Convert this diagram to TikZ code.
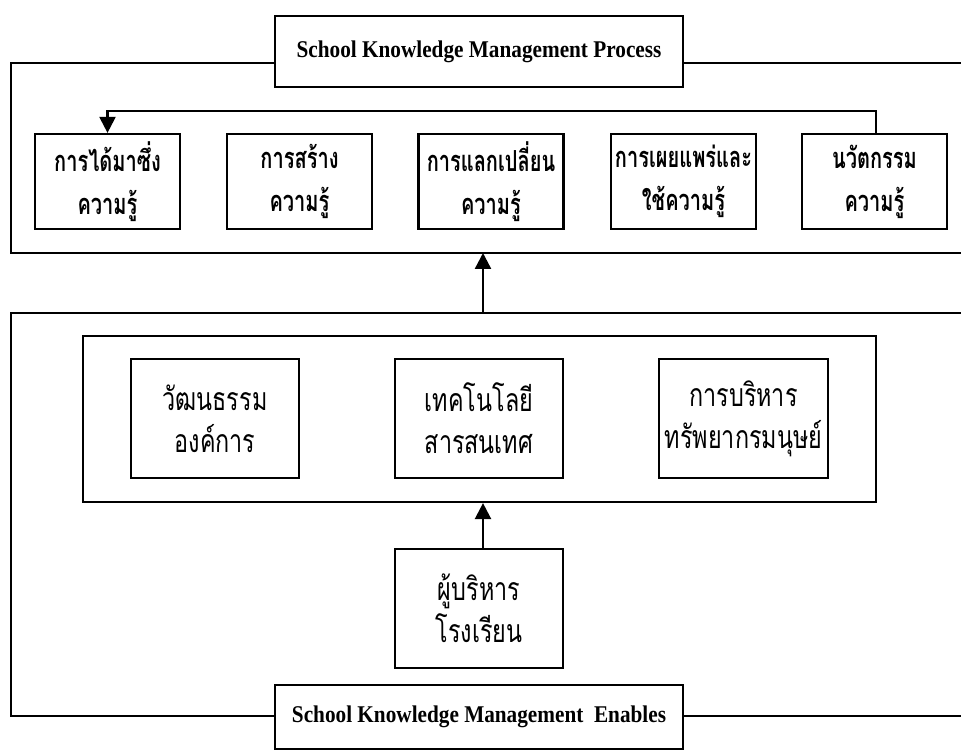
\documentclass[tikz,border=0pt]{standalone}
\usepackage{fontspec}
\setmainfont{Liberation Serif}
\newfontfamily\thaifont[Script=Thai]{Loma}
\usetikzlibrary{arrows.meta,calc}

% horizontally condensed text line
\newcommand{\narrow}[2]{\scalebox{#1}[1]{#2}}
\newcommand{\pline}[1]{\narrow{0.69}{#1}}
\newcommand{\eline}[1]{\narrow{0.73}{#1}}

\tikzset{
  frame/.style={line width=2.7pt, line cap=rect},
  titlebox/.style={draw, line width=2.2pt, fill=white, inner sep=0pt,
    minimum width=408pt, font=\fontsize{24}{28}\selectfont\bfseries},
  procbox/.style={draw, line width=2.2pt, inner sep=0pt, align=center,
    minimum width=145pt, minimum height=95pt,
    font=\thaifont\bfseries\fontsize{29}{43}\selectfont},
  enabbox/.style={draw, line width=2.2pt, inner sep=0pt, align=center,
    minimum width=168pt, minimum height=119pt,
    font=\thaifont\fontsize{32}{42}\selectfont},
  groupbox/.style={draw, line width=2.2pt, inner sep=0pt,
    minimum width=793pt, minimum height=166pt},
  flow/.style={line width=2.4pt, -{Triangle[length=16pt,width=16pt]}},
}

\begin{document}
\begin{tikzpicture}[x=1pt, y=-1pt]
\useasboundingbox (0,0) rectangle (961,751);

% process group: title box and its open frame
\coordinate (ptl) at (11,63);
\coordinate (pbl) at (11,253);
\coordinate (pbr) at (961,253);
\coordinate (ptr) at (961,63);
\node[titlebox, minimum height=71pt] (ptitle) at (479,51.5)
  {\narrow{0.885}{School Knowledge Management Process}};
\draw[frame] (ptitle.west |- ptl) -- (ptl) -- (pbl) -- (pbr);
\draw[frame] (ptitle.east |- ptr) -- (ptr);

% the five steps of the process
\node[procbox] (p1) at (107.5,181.5) {\pline{การได้มาซึ่ง}\\\pline{ความรู้}};
\node[procbox] (p2) at (299.5,181.5) {\pline{การสร้าง}\\\pline{ความรู้}};
\node[procbox] (p3) at (491,181.5) {\pline{การแลกเปลี่ยน}\\\pline{ความรู้}};
\node[procbox] (p4) at (683.5,181.5) {\pline{การเผยแพร่และ}\\\pline{ใช้ความรู้}};
\node[procbox] (p5) at (874.5,181.5) {\pline{นวัตกรรม}\\\pline{ความรู้}};

% feedback loop from the last step back to the first
\coordinate (loop) at (0,111);
\draw[flow, line width=2.2pt] ([xshift=1.5pt]p5.north) -- ([xshift=1.5pt]p5.north |- loop)
  -- (p1.north |- loop) -- (p1.north);

% enablers group: open frame and its title box
\coordinate (etl) at (11,313);
\coordinate (etr) at (961,313);
\coordinate (ebl) at (11,716);
\coordinate (ebr) at (961,716);
\draw[frame] (etr) -- (etl) -- (ebl) -- (275,716);
\node[titlebox, minimum height=64pt] (etitle) at (479,717)
  {\narrow{0.885}{School Knowledge Management\ \ Enables}};
\draw[frame] (etitle.west |- ebl) -- (ebl);
\draw[frame] (etitle.east |- ebr) -- (ebr);

% link from enablers up to the process
\draw[flow] (483,313) coordinate (eup) -- (eup |- pbl);

% enabling factors
\node[groupbox] (grp) at (479.5,419) {};
\node[enabbox] (e1) at (215,418.5) {\eline{วัฒนธรรม}\\\eline{องค์การ}};
\node[enabbox] (e2) at (479,418.5) {\eline{เทคโนโลยี}\\\eline{สารสนเทศ}};
\node[enabbox, minimum width=169pt] (e3) at (743.5,418.5) {\eline{การบริหาร}\\\eline{ทรัพยากรมนุษย์}};

% school administrators drive the enabling factors
\node[enabbox] (mgr) at (479,608.5) {\eline{ผู้บริหาร}\\\eline{โรงเรียน}};
\draw[flow] ([xshift=4pt]mgr.north) -- ([xshift=4pt]mgr.north |- grp.south);
\end{tikzpicture}
\end{document}
